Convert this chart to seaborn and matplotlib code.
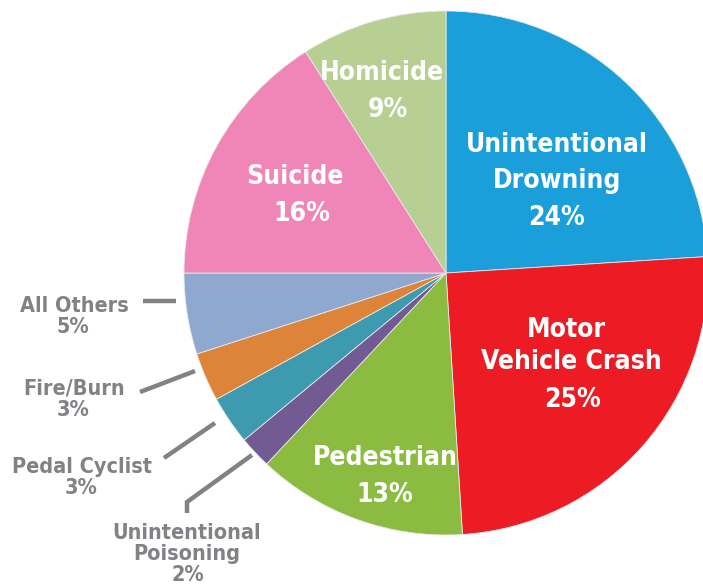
import matplotlib
matplotlib.use("Agg")
import matplotlib.pyplot as plt
import seaborn as sns

categories = ["Unintentional\nDrowning", "Motor\nVehicle Crash", "Pedestrian",
              "Unintentional\nPoisoning", "Pedal Cyclist", "Fire/Burn",
              "All Others", "Suicide", "Homicide"]
shares = [24, 25, 13, 2, 3, 3, 5, 16, 9]
colors = ["#1a9fda", "#ed1c24", "#8bbb40", "#725a92", "#3e9aae",
          "#de843a", "#8fa8cf", "#ef86b7", "#b8cf93"]

# label layout in pixel space (y from top): center x per line, baseline y per line
inner_layout = {0: ([557, 557, 557], [152, 188, 225]),
                1: ([566, 571, 572], [337, 369, 407]),
                2: ([385, 385], [465, 502]),
                7: ([295, 302], [184, 221]),
                8: ([382, 388], [80, 117])}
outer_layout = {6: ([74, 73], [312, 333]),
                5: ([74, 73], [395, 416]),
                4: ([82, 81], [473, 494]),
                3: ([187, 187, 188], [539, 560, 581])}
leaders = {6: [(143, 301), (176, 301)],
           5: [(140, 392), (195, 371)],
           4: [(164, 458), (215, 423)],
           3: [(187, 513), (187, 502), (252, 455)]}

sns.set_theme(style="white")
plt.rcParams["font.family"] = ["DejaVu Sans"]

W, H = 703, 584
fig = plt.figure(figsize=(W / 100, H / 100), dpi=100)
ax = fig.add_axes([0, 0, 1, 1])

cx, cy, r = 446, 273, 262
ax.pie(shares, colors=colors, startangle=90, counterclock=False,
       center=(cx, H - cy), radius=r, frame=True,
       wedgeprops=dict(edgecolor="#e8e8e8", linewidth=0.6))
ax.set_xlim(0, W)
ax.set_ylim(0, H)
ax.set_aspect("equal")
ax.axis("off")


def put_label(i, xs, ys, color, size):
    lines = categories[i].split("\n") + [f"{shares[i]}%"]
    for line, x, y in zip(lines, xs, ys):
        ax.text(x, H - y, line, ha="center", va="baseline", color=color,
                fontsize=size, fontweight="bold", fontstretch="condensed")


for i, (xs, ys) in inner_layout.items():
    put_label(i, xs, ys, "white", 19)

gray = "#808285"
for i, (xs, ys) in outer_layout.items():
    put_label(i, xs, ys, gray, 15.5)
for i, pts in leaders.items():
    ax.plot([p[0] for p in pts], [H - p[1] for p in pts], color=gray, lw=3.2,
            solid_capstyle="butt", solid_joinstyle="miter")

fig.savefig("out.png", dpi=100)
